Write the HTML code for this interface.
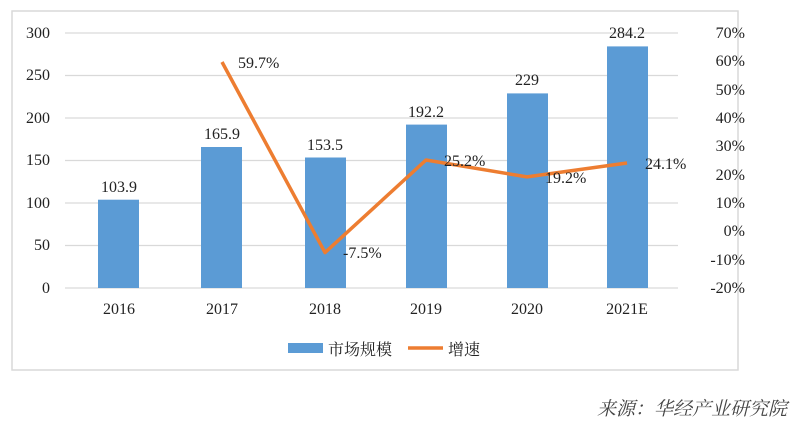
<!DOCTYPE html>
<html><head><meta charset="utf-8"><style>
body{margin:0;background:#fff;}
svg{display:block;}
text{font-family:"Liberation Serif","Noto Serif CJK SC",serif;fill:#222;}
</style></head><body>
<svg width="800" height="424" viewBox="0 0 800 424">
<rect x="12" y="11" width="726" height="359" fill="#fff" stroke="#d9d9d9" stroke-width="1.5"/>
<g stroke="#d9d9d9" stroke-width="1.2">
<line x1="65" x2="678" y1="33" y2="33"/><line x1="65" x2="678" y1="75.5" y2="75.5"/>
<line x1="65" x2="678" y1="118" y2="118"/><line x1="65" x2="678" y1="160.5" y2="160.5"/>
<line x1="65" x2="678" y1="203" y2="203"/><line x1="65" x2="678" y1="245.5" y2="245.5"/>
<line x1="65" x2="678" y1="288" y2="288"/>
</g>
<g font-size="16" text-anchor="end">
<text x="50" y="38">300</text><text x="50" y="80">250</text><text x="50" y="123">200</text>
<text x="50" y="165">150</text><text x="50" y="208">100</text><text x="50" y="250">50</text><text x="50" y="293">0</text>
</g>
<g font-size="16" text-anchor="end">
<text x="745" y="38">70%</text><text x="745" y="66">60%</text><text x="745" y="95">50%</text>
<text x="745" y="123">40%</text><text x="745" y="151">30%</text><text x="745" y="180">20%</text>
<text x="745" y="208">10%</text><text x="745" y="236">0%</text><text x="745" y="265">-10%</text>
<text x="745" y="293">-20%</text>
</g>
<g fill="#5b9bd5">
<rect x="98" y="199.7" width="41" height="88.3"/>
<rect x="201" y="147" width="41" height="141"/>
<rect x="305" y="157.5" width="41" height="130.5"/>
<rect x="406" y="124.6" width="41" height="163.4"/>
<rect x="507" y="93.4" width="41" height="194.6"/>
<rect x="607" y="46.4" width="41" height="241.6"/>
</g>
<g font-size="16" text-anchor="middle">
<text x="119" y="192">103.9</text><text x="222" y="139">165.9</text><text x="325" y="150">153.5</text>
<text x="426" y="117">192.2</text><text x="527" y="85">229</text><text x="627" y="38">284.2</text>
<text x="119" y="314">2016</text><text x="222" y="314">2017</text><text x="325" y="314">2018</text>
<text x="426" y="314">2019</text><text x="527" y="314">2020</text><text x="627" y="314">2021E</text>
</g>
<polyline points="222,62 325,252.6 426,160 527,176.9 627,163" fill="none" stroke="#ed7d31" stroke-width="3.5" stroke-linejoin="round"/>
<g font-size="16">
<text x="238" y="68">59.7%</text><text x="343" y="258">-7.5%</text><text x="444" y="166">25.2%</text>
<text x="545" y="183">19.2%</text><text x="645" y="169">24.1%</text>
</g>
<rect x="288" y="343" width="35" height="10" fill="#5b9bd5"/>
<text x="328" y="355" font-size="16" font-family="Noto Sans CJK SC">市场规模</text>
<line x1="408" x2="443" y1="348" y2="348" stroke="#ed7d31" stroke-width="3.5"/>
<text x="448" y="355" font-size="16" font-family="Noto Sans CJK SC">增速</text>
<text x="787" y="415" font-size="19" text-anchor="end" font-style="italic" style="fill:#444" font-family="Noto Serif CJK SC">来源：华经产业研究院</text>
</svg>
</body></html>
